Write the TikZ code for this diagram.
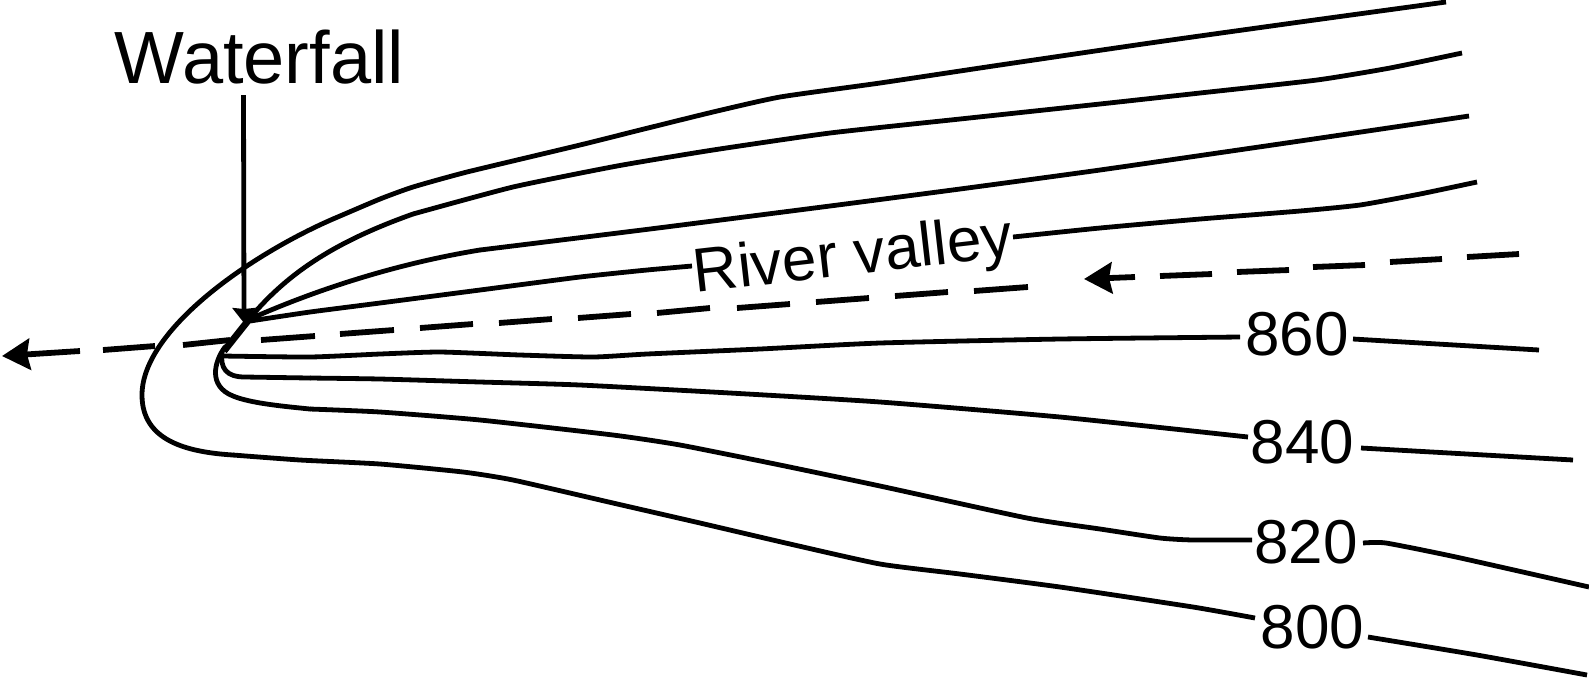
\documentclass[tikz,border=0pt]{standalone}
\usepackage{fontspec}
\setmainfont{Liberation Sans}
\usetikzlibrary{arrows.meta}
\tikzset{
  contour/.style={line width=2.4pt,smooth,tension=0.33},
  bow/.style={line width=2.4pt,line cap=round},
  dashseg/.style={line width=2.9pt},
  lab/.style={inner sep=0pt,outer sep=0pt,anchor=base,font=\fontsize{31pt}{36pt}\selectfont},
  flow/.style={line width=2.9pt,-{Stealth[length=14pt,width=15.5pt,inset=1.5pt]}},
  fallarrow/.style={line width=2.4pt,-{Stealth[length=7.5pt,width=11.5pt,inset=0.5pt]}}
}
\begin{document}
\begin{tikzpicture}[x=0.5pt,y=-0.5pt]
\useasboundingbox (0,0) rectangle (1589,677);
% labels
\node[lab,font=\fontsize{37pt}{42pt}\selectfont] (wf) at (259.5,83) {Waterfall};
\node[lab,rotate=6.5] (rv) at (855,274.5) {River valley};
\node[lab] (c860) at (1297,355) {860};
\node[lab] (c840) at (1302.5,463) {840};
\node[lab] (c820) at (1306,563) {820};
\node[lab] (c800) at (1312.5,648) {800};
% contour 800 (outermost)
\draw[contour] plot coordinates {(1446,2) (1300,22) (1150,43) (1000,65) (880,83) (780,97) (713,112) (640,130) (580,145) (467,172) (413,187) (380,199) (333,219)};
\draw[bow] (333,219) .. controls (250,255) and (142,330) .. (142,395) .. controls (142,440) and (185,452) .. (233,455);
\draw[contour] plot coordinates {(233,455) (300,460) (380,464) (463,472) (513,480) (613,503) (700,523) (790,544) (880,564) (960,574) (1060,587) (1193,607) (1255,618)};
\draw[contour] plot coordinates {(1368,637) (1477,655) (1587,675)};
% contour 820
\draw[contour] plot coordinates {(1462,53) (1390,68) (1317,80) (1200,93) (1100,104) (960,119) (830,133) (713,150) (617,166) (513,187) (413,214)};
\draw[bow] (413,214) .. controls (340,240) and (290,270) .. (250,318);
\draw[bow] (225,347) .. controls (214,362) and (208,386) .. (233,396) .. controls (250,403) and (280,406) .. (310,409);
\draw[contour] plot coordinates {(310,409) (380,412) (480,420) (613,435) (680,445) (780,465) (880,486) (1027,518) (1100,529) (1160,538) (1193,540) (1252,540)};
\draw[contour] plot coordinates {(1363,543) (1386,543) (1456,557) (1589,587)};
% contour 840
\draw[contour] plot coordinates {(1469,116) (1300,141) (1100,170) (960,189) (830,206) (650,229) (480,250)};
\draw[bow] (480,250) .. controls (400,263) and (320,288) .. (250,319);
\draw[bow] (222,352) .. controls (220,368) and (226,377) .. (245,377) -- (310,378);
\draw[contour] plot coordinates {(310,378) (380,379) (480,382) (580,385) (730,393) (880,402) (1060,417) (1248,437)};
\draw[contour] plot coordinates {(1361,448) (1573,460)};
% contour 860
\draw[contour] plot coordinates {(1477,182) (1420,194) (1360,205) (1300,211) (1200,219) (1100,228) (1013,237)};
\draw[contour] plot coordinates {(692,266) (647,270) (580,277) (480,290) (380,303) (310,312) (250,321)};
\draw[contour] plot coordinates {(223,356) (310,357) (380,354) (440,352) (520,355) (593,357) (647,354) (760,349) (880,343) (1060,339) (1240,337)};
\draw[contour] plot coordinates {(1353,339) (1539,350)};
% shared steep reach at the waterfall
\draw[line width=3.4pt] (251,317) -- (224,351);
% river: dashes
\draw[dashseg]
 (1519,254) -- (1467,257) (1442,259) -- (1390,262) (1365,265) -- (1313,267)
 (1289,270) -- (1237,272) (1212,274) -- (1160,276)
 (1028,287) -- (974,291) (948,292) -- (895,296) (869,298) -- (816,302)
 (790,304) -- (737,308) (710,308) -- (657,313) (631,314) -- (578,318)
 (552,319) -- (499,323) (473,324) -- (420,328) (394,330) -- (340,334)
 (315,336) -- (261,340) (230,340) -- (183,345) (155,346) -- (103,350);
\coordinate (riverA) at (1135,277);
\coordinate (riverB) at (1084,279);
\coordinate (riverC) at (80,351);
\coordinate (riverD) at (2,356);
\draw[flow] (riverA) -- (riverB);
\draw[flow] (riverC) -- (riverD);
% waterfall arrow
\coordinate (fallTop) at (243.5,95);
\coordinate (fall) at (244,323);
\draw[fallarrow] (fallTop) -- (fall);
\end{tikzpicture}
\end{document}
